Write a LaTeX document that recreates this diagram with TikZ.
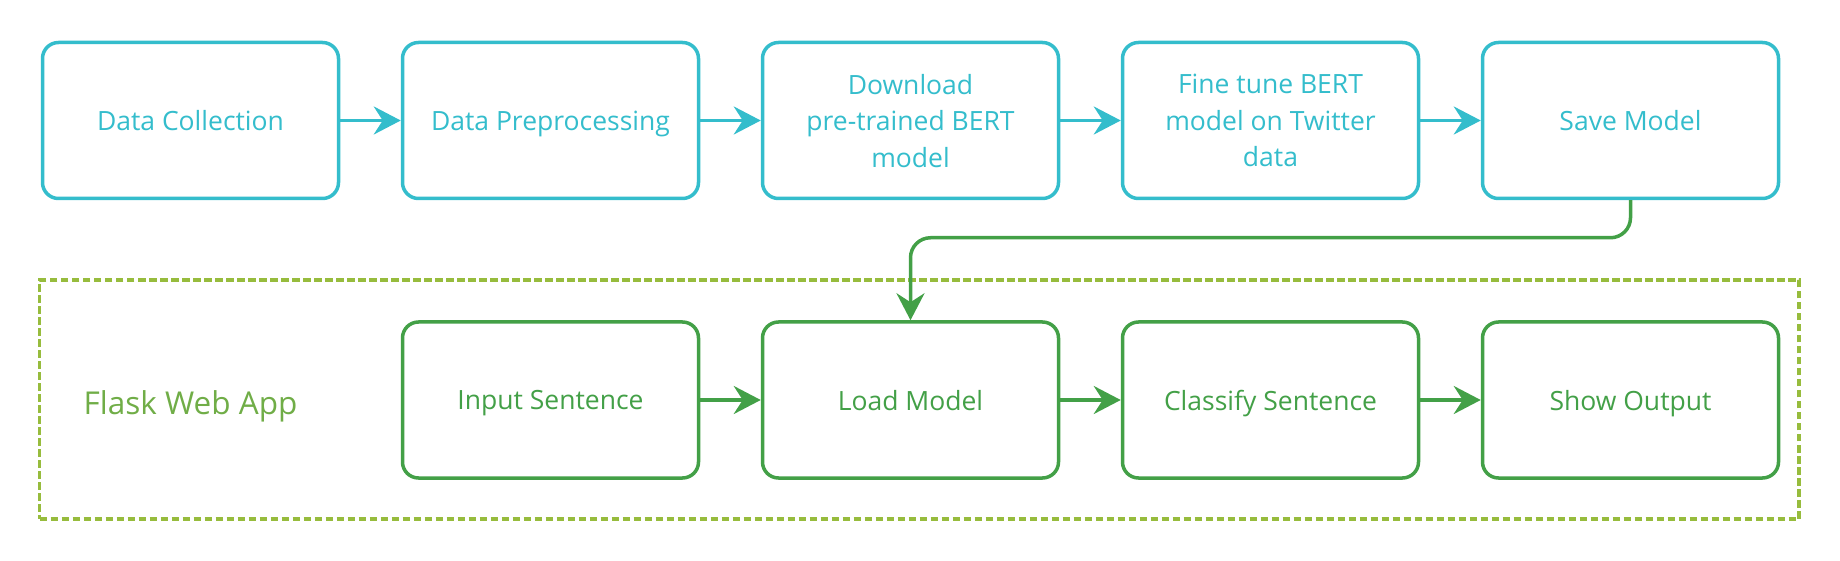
\documentclass[tikz,border=0pt]{standalone}
\usepackage{fontspec}
\setmainfont{Open Sans}
\usetikzlibrary{shapes.geometric, arrows.meta, positioning}
\definecolor{trainblue}{RGB}{52,189,204}
\definecolor{appgreen}{RGB}{67,160,71}
\definecolor{framegreen}{RGB}{151,188,61}
\definecolor{labelgreen}{RGB}{112,173,71}
\tikzstyle{trainstep} = [rectangle, rounded corners=16pt, minimum width=296pt, minimum height=156pt, text centered, align=center, text depth=0pt, line width=3.5pt, draw=trainblue, text=trainblue, fill=white, font=\fontsize{26.5}{36.5}\selectfont]
\tikzstyle{appstep} = [trainstep, draw=appgreen, text=appgreen]
\tikzstyle{appframe} = [rectangle, minimum width=1759.5pt, minimum height=239pt, line width=3.5pt, draw=framegreen, dash pattern=on 7.5pt off 3.5pt]
\tikzstyle{applabel} = [text=labelgreen, font=\fontsize{31.5}{40}\selectfont]
\tikzstyle{trainarrow} = [line width=3.5pt, draw=trainblue, -{Stealth[length=27pt, width=28pt, inset=9pt]}]
\tikzstyle{apparrow} = [trainarrow, draw=appgreen]
\begin{document}
\begin{tikzpicture}[x=1pt, y=1pt, node distance=360pt]
            \useasboundingbox (0,0) rectangle (1840,-561);
            \node (webapp) [appframe] at (919.25,-399.5) {};
            \node (collect) [trainstep] at (190.5,-120.5) {Data Collection};
            \node (prep) [trainstep, right of=collect] {Data Preprocessing};
            \node (download) [trainstep, right of=prep] {Download\\pre-trained BERT\\model};
            \node (finetune) [trainstep, right of=download] {Fine tune BERT\\model on Twitter\\data};
            \node (save) [trainstep, right of=finetune] {Save Model};
            \node (input) [appstep, below of=prep, node distance=279.5pt] {Input Sentence};
            \node (load) [appstep, right of=input] {Load Model};
            \node (classify) [appstep, right of=load] {Classify Sentence};
            \node (output) [appstep, right of=classify] {Show Output};
            \node (flask) [applabel, left of=input, yshift=-6pt] {Flask Web App};

            \draw [trainarrow] (collect) -- (prep);
            \draw [trainarrow] (prep) -- (download);
            \draw [trainarrow] (download) -- (finetune);
            \draw [trainarrow] (finetune) -- (save);
            \draw [apparrow, rounded corners=20pt] (save.south) -- ++(0,-37.5) -| (load.north);
            \draw [apparrow] (input) -- (load);
            \draw [apparrow] (load) -- (classify);
            \draw [apparrow] (classify) -- (output);
\end{tikzpicture}
\end{document}
